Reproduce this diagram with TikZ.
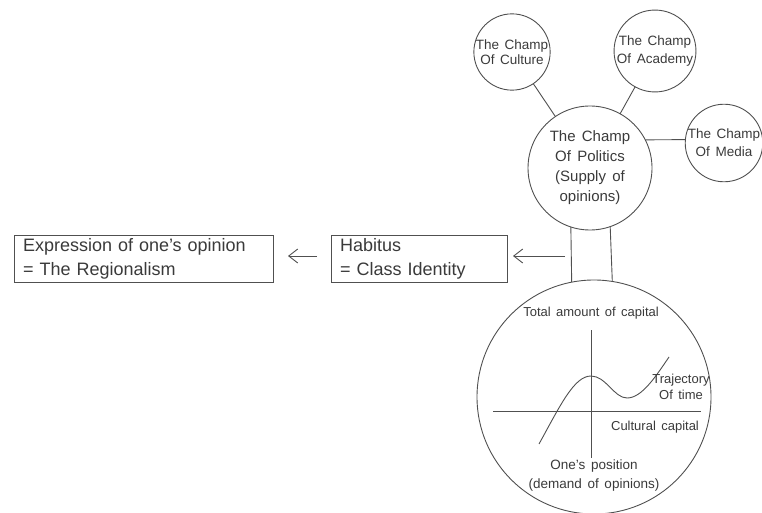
\documentclass[tikz,border=0pt]{standalone}
\usepackage{fontspec}
\setmainfont{Liberation Sans}[WordSpace=1.5]
\usetikzlibrary{arrows.meta}
\definecolor{ink}{HTML}{3a3a3a}
\definecolor{linec}{HTML}{505050}
\tikzset{
  champ/.style={circle, draw=linec, line width=0.9pt, inner sep=0pt, outer sep=0pt, align=center, text=ink},
  box/.style={rectangle, draw=linec, line width=0.9pt, inner xsep=9pt, inner ysep=0pt, outer sep=0pt, align=left, text=ink, font=\fontsize{18}{24}\selectfont},
  conn/.style={draw=linec, line width=0.9pt},
  arr/.style={draw=linec, line width=0.9pt, -{Straight Barb[length=9pt,width=14pt]}},
  lbl/.style={text=ink, inner sep=0pt, align=center, font=\fontsize{13}{16}\selectfont}
}
\begin{document}
\begin{tikzpicture}[x=1pt,y=-1pt]
\useasboundingbox (0,0) rectangle (762,513);
% circles
\node[champ, minimum size=124pt, font=\fontsize{15}{20}\selectfont] (pol) at (590,168) {The Champ\\Of Politics\\(Supply of\\opinions)};
\node[champ, minimum size=74pt, font=\fontsize{13.5}{15}\selectfont] (cul) at (512,52) {The Champ\\Of Culture};
\node[champ, minimum size=78pt, font=\fontsize{13.5}{18}\selectfont] (aca) at (655,51) {The Champ\\Of Academy};
\node[champ, minimum size=74pt, font=\fontsize{13.5}{18}\selectfont] (med) at (724,143) {The Champ\\Of Media};
\node[champ, minimum size=234pt] (bot) at (594,397) {};
% links
\draw[conn] (cul) -- (pol);
\draw[conn] (aca) -- (pol);
\draw[conn] (pol.27) -- (med.175.4);
\draw[conn] (pol.252.15) -- (bot.101.3);
\draw[conn] (pol.289.8) -- (bot.81.6);
% boxes
\node[box, minimum width=259pt, minimum height=47pt, text width=241pt] (expr) at (143.5,258.5) {Expression of one's opinion\\= The Regionalism};
\node[box, minimum width=176pt, minimum height=47pt, text width=158pt] (hab) at (419,258.5) {Habitus\\= Class Identity};
% arrows
\coordinate (harr) at (565,256);
\draw[arr] (harr) -- ([xshift=6pt]hab.east |- harr);
\coordinate (earr) at (317,256);
\draw[arr] (earr) -- ([xshift=15pt]expr.east |- earr);
% graph inside bottom circle
\coordinate (yaxT) at (591,330);
\coordinate (yaxB) at (591,458);
\coordinate (xaxL) at (493,411);
\coordinate (xaxR) at (701,411);
\draw[conn] (yaxT) -- (yaxB);
\draw[conn] (xaxL) -- (xaxR);
\draw[conn] (539,444) .. controls (560,406) and (574,376) .. (591,376)
  .. controls (606,376) and (614,398) .. (627,398)
  .. controls (642,398) and (656,376) .. (669,357);
\node[lbl] (tot) at (591,313) {Total amount of capital};
\node[lbl] (traj) at (681,387) {Trajectory\\Of time};
\node[lbl] (cult) at (655,427) {Cultural capital};
\node[lbl, font=\fontsize{13.5}{19}\selectfont] (pos) at (594,475.5) {One's position\\(demand of opinions)};
\end{tikzpicture}
\end{document}
